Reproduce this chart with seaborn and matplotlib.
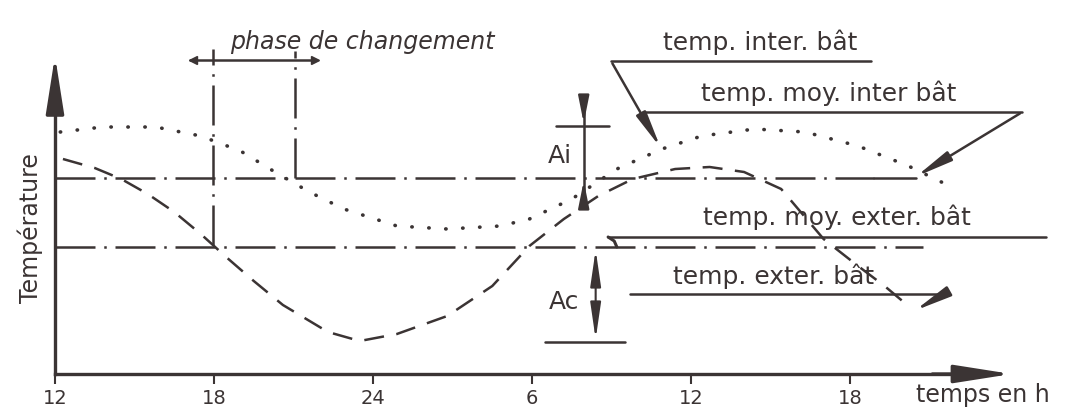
import numpy as np
import pandas as pd
import matplotlib
matplotlib.use("Agg")
import matplotlib.pyplot as plt
import seaborn as sns

sns.set_theme(style="white")
plt.rcParams['font.family'] = ['DejaVu Sans']

INK = '#3b3434'

# heures (12 -> 48 = 12h le lendemain) et temperatures (unites arbitraires)
heures_int = [12.2, 13.8, 15.8, 17.5, 19.0, 20.3, 21.6, 22.9, 24.9, 26.8, 28.8, 29.9,
              31.5, 33.2, 34.9, 36.4, 38.4, 40.3, 42.3, 44.2, 45.6]
temp_int = [24.2, 24.7, 24.7, 23.8, 22.3, 20.2, 18.2, 16.5, 14.8, 14.5, 14.8, 15.5,
            17.5, 20.5, 22.5, 23.8, 24.5, 24.2, 22.8, 20.8, 19.0]

heures_ext = [12.3, 13.5, 14.5, 15.5, 16.5, 17.5, 18.5, 19.5, 20.6, 22.3, 23.5, 24.9, 26.8, 28.5,
              29.9, 31.2, 32.5, 33.8, 35.4, 36.7, 38.0, 39.4, 41.0, 42.3, 43.3, 44.2]
temp_ext = [21.5, 20.6, 19.5, 18.0, 16.2, 14.0, 11.6, 9.3, 6.9, 4.2, 3.3, 4.0, 5.8, 8.8,
            12.8, 15.5, 17.8, 19.5, 20.5, 20.7, 20.2, 18.5, 13.5, 10.8, 8.8, 6.8]

moy_int = 19.6
moy_ext = 12.7

tick_pos = [12, 18, 24, 30, 36, 42]
tick_lab = ['12', '18', '24', '6', '12', '18']

df_int = pd.DataFrame({'h': heures_int, 'T': temp_int})
df_ext = pd.DataFrame({'h': heures_ext, 'T': temp_ext})

fig = plt.figure(figsize=(10.69, 4.14), dpi=100, facecolor='white')
ax = fig.add_axes([0, 0, 1, 1])
ax.set_facecolor('white')
ax.set_xlim(9.925, 50.26)
ax.set_ylim(-3.9, 37.5)

# courbes
sns.lineplot(data=df_int, x='h', y='T', ax=ax, color=INK, lw=2.6,
             linestyle=(0, (0.1, 4.6)), dash_capstyle='round', sort=False)
sns.lineplot(data=df_ext, x='h', y='T', ax=ax, color=INK, lw=1.8,
             linestyle=(0, (8, 5)), sort=False)

# moyennes (trait mixte)
dashdot = (0, (16, 3.5, 1, 3.5))
ax.plot([12, 42.9], [moy_int, moy_int], color=INK, lw=1.8, linestyle=dashdot)
ax.plot([12, 44.75], [moy_ext, moy_ext], color=INK, lw=1.8, linestyle=dashdot)

# fleches fines
fleche = dict(arrowstyle='-|>,head_length=1.1,head_width=0.16',
              mutation_scale=20, color=INK, lw=1.8)
courte = dict(arrowstyle='-|>,head_length=0.8,head_width=0.16',
              mutation_scale=20, color=INK, lw=1.8)

# phase de changement
ax.plot([17.95, 17.95], [12.9, 32.5], color=INK, lw=1.8, linestyle=dashdot)
ax.plot([21.05, 21.05], [moy_int, 32.3], color=INK, lw=1.8, linestyle=dashdot)
ax.plot([17.1, 21.9], [31.4, 31.4], color=INK, lw=1.8)
ax.plot([17.2], [31.4], marker='<', ms=6, color=INK)
ax.plot([21.8], [31.4], marker='>', ms=6, color=INK)
ax.text(23.6, 33.3, 'phase de changement', fontsize=17, style='italic',
        color=INK, ha='center', va='center')

# amplitude interieure Ai
ax.plot([30.9, 32.9], [24.8, 24.8], color=INK, lw=1.8)
ax.plot([31.95, 31.95], [26.8, 17.5], color=INK, lw=1.8)
ax.annotate('', xy=(31.95, 24.8), xytext=(31.95, 26.9), arrowprops=courte)
ax.annotate('', xy=(31.95, moy_int), xytext=(31.95, 17.4), arrowprops=courte)
ax.text(31.05, 21.9, 'Ai', fontsize=18, color=INK, ha='center', va='center')

# amplitude exterieure Ac
ax.plot([30.5, 33.5], [3.2, 3.2], color=INK, lw=1.8)
ax.annotate('', xy=(32.4, moy_ext), xytext=(32.4, 3.2),
            arrowprops=dict(arrowstyle='<|-|>,head_length=1.1,head_width=0.16',
                            mutation_scale=20, color=INK, lw=1.5))
ax.text(31.2, 7.3, 'Ac', fontsize=18, color=INK, ha='center', va='center')

# legendes manuscrites avec renvois
ax.text(38.6, 33.3, 'temp. inter. bât', fontsize=18, color=INK, ha='center', va='center')
ax.plot([32.98, 42.8], [31.3, 31.3], color=INK, lw=1.8)
ax.annotate('', xy=(34.9, 22.4), xytext=(32.98, 31.3), arrowprops=fleche)

ax.text(41.2, 28.2, 'temp. moy. inter bât', fontsize=18, color=INK, ha='center', va='center')
ax.plot([34.2, 48.5], [26.2, 26.2], color=INK, lw=1.8)
ax.plot([42.9, 44.5], [moy_int, moy_int], color=INK, lw=1.8)
ax.annotate('', xy=(44.4, moy_int), xytext=(48.5, 26.2), arrowprops=fleche)

ax.text(41.5, 15.8, 'temp. moy. exter. bât', fontsize=18, color=INK, ha='center', va='center')
ax.plot([32.87, 49.4], [13.7, 13.7], color=INK, lw=1.8)
ax.plot([32.87, 33.1, 33.2], [13.7, 13.3, 12.7], color=INK, lw=2.2)

ax.text(39.1, 9.9, 'temp. exter. bât', fontsize=18, color=INK, ha='center', va='center')
ax.plot([33.7, 45.55], [8.0, 8.0], color=INK, lw=1.8)
ax.annotate('', xy=(44.35, 6.2), xytext=(45.55, 8.0), arrowprops=fleche)

# axes dessines a la main
for side in ['top', 'right']:
    ax.spines[side].set_visible(False)
ax.spines['left'].set_position(('data', 12))
ax.spines['bottom'].set_position(('data', 0))
ax.spines['left'].set_bounds(0, 29)
ax.spines['bottom'].set_bounds(12, 46)
for side in ['left', 'bottom']:
    ax.spines[side].set_color(INK)
    ax.spines[side].set_linewidth(2.4)
axe = dict(arrowstyle='-|>,head_length=1.4,head_width=0.22',
           mutation_scale=25, color=INK, lw=2.4)
ax.annotate('', xy=(12, 32.1), xytext=(12, 27), arrowprops=axe)
ax.annotate('', xy=(48.2, 0), xytext=(45, 0), arrowprops=axe)

ax.set_xticks(tick_pos)
ax.set_xticklabels(tick_lab, fontsize=14, color=INK)
ax.set_yticks([])
ax.tick_params(axis='x', direction='out', length=7, width=1.5, color=INK, pad=3,
               bottom=True)
ax.set_xlabel('')
ax.set_ylabel('')

ax.text(11.05, 14.7, 'Température', fontsize=17, color=INK, rotation=90,
        ha='center', va='center')
ax.text(44.5, -2.0, 'temps en h', fontsize=17, color=INK, ha='left', va='center')

fig.savefig('out.png', dpi=100, facecolor='white')
